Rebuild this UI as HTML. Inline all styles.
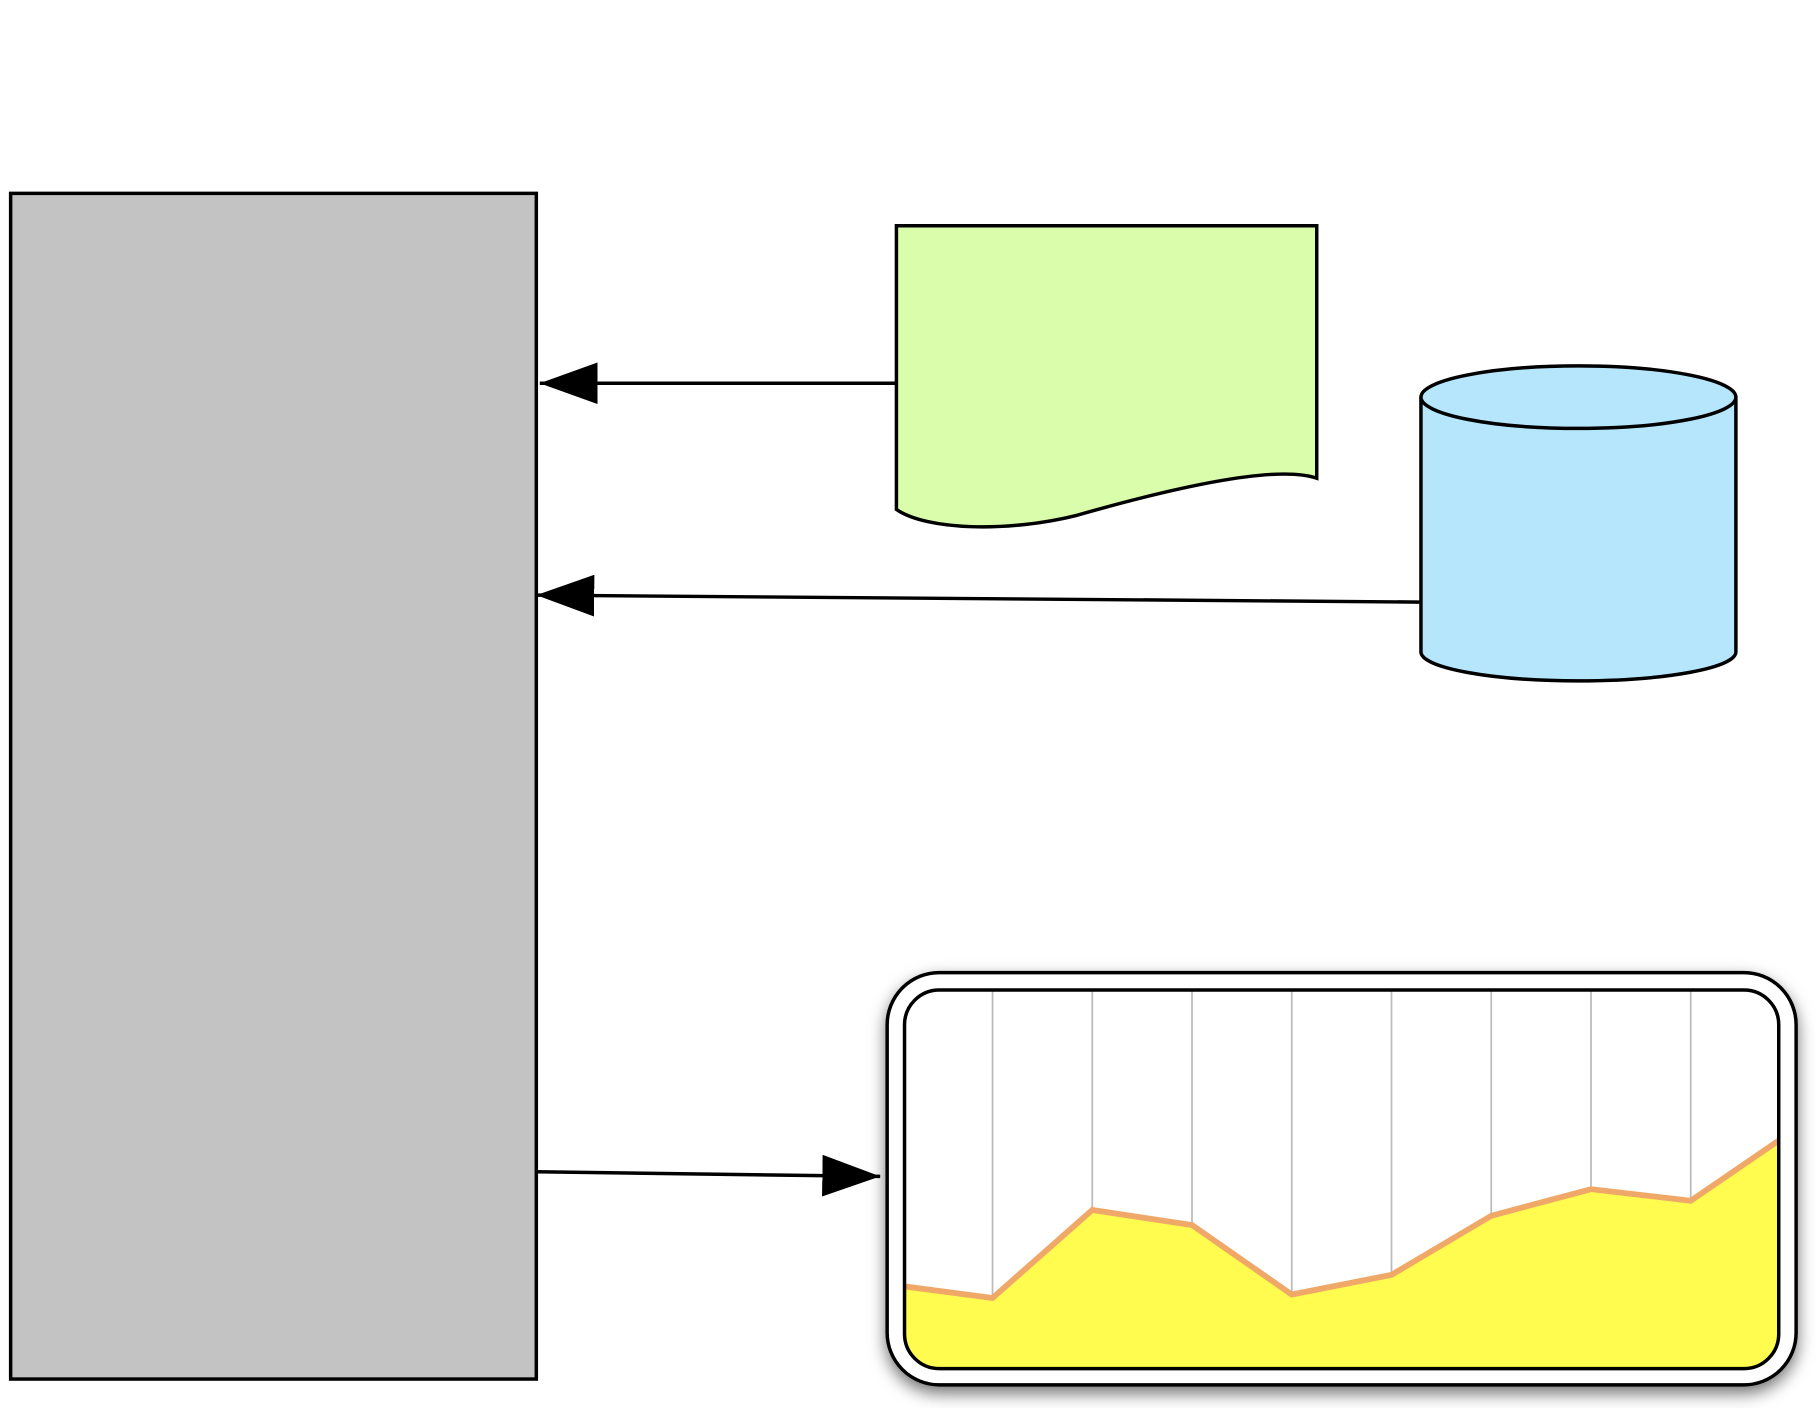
<!DOCTYPE html>
<html><head><meta charset="utf-8"><style>
html,body{margin:0;padding:0;background:#fff;width:1816px;height:1408px;overflow:hidden}
svg{display:block}
</style></head><body>
<svg id="root" width="1816" height="1408" viewBox="0 0 1568 1216">
<defs>
<marker id="ah" viewBox="0 0 50 36" refX="50" refY="18" markerWidth="50" markerHeight="36" markerUnits="userSpaceOnUse" orient="auto">
<path d="M0,0 L50,18 L0,36 Z" fill="#000"/>
</marker>
<filter id="sh" x="-10%" y="-10%" width="120%" height="130%">
<feDropShadow dx="0" dy="6" stdDeviation="7" flood-color="#000" flood-opacity="0.55"/>
</filter>
<clipPath id="inner"><rect x="781" y="855" width="755" height="327" rx="30"/></clipPath>
</defs>
<rect x="9" y="167" width="454" height="1024" fill="#c3c3c3" stroke="#000" stroke-width="3"/>
<path d="M774,195 H1137 V413 C1100,400 1000,425 930,445 C870,460 800,458 774,440 Z" fill="#d9fdaa" stroke="#000" stroke-width="3"/>
<g>
<path d="M1227,343 V563 A136,25 0 0 0 1499,563 V343" fill="#b5e6fb" stroke="#000" stroke-width="3"/>
<ellipse cx="1363" cy="343" rx="136" ry="27" fill="#b5e6fb" stroke="#000" stroke-width="3"/>
</g>
<line x1="774" y1="331" x2="466" y2="331" stroke="#000" stroke-width="3" marker-end="url(#ah)"/>
<line x1="1227" y1="520" x2="463" y2="514" stroke="#000" stroke-width="3" marker-end="url(#ah)"/>
<line x1="463" y1="1012" x2="760" y2="1016" stroke="#000" stroke-width="3" marker-end="url(#ah)"/>
<g>
<rect x="766" y="840" width="785" height="356" rx="45" fill="#fff" stroke="#000" stroke-width="3" filter="url(#sh)"/>
<rect x="781" y="855" width="755" height="327" rx="30" fill="#fff"/>
<g id="plot" clip-path="url(#inner)"></g>
<rect x="781" y="855" width="755" height="327" rx="30" fill="none" stroke="#000" stroke-width="3"/>
</g>
</svg>
<script>
const categories = ["c0","c1","c2","c3","c4","c5","c6","c7","c8","c9"];
const values = [71, 61, 137, 124, 64, 81, 132, 155, 145, 197];

const NS = "http://www.w3.org/2000/svg";
function xScale(i){
  const n = categories.length;
  if (i === 0) return 781;
  if (i === n - 1) return 1536;
  return 857 + (i - 1) * (1460 - 857) / (n - 3);
}
function yScale(v){ return 1182 - v; }
const plot = document.getElementById("plot");
for (let i = 1; i < categories.length - 1; i++) {
  const g = document.createElementNS(NS, "line");
  g.setAttribute("x1", xScale(i)); g.setAttribute("x2", xScale(i));
  g.setAttribute("y1", 855); g.setAttribute("y2", 1182);
  g.setAttribute("stroke", "#bbb"); g.setAttribute("stroke-width", "1.5");
  
  
  plot.appendChild(g);
}
let pts = values.map((v, i) => xScale(i) + "," + yScale(v));
const area = document.createElementNS(NS, "polygon");
area.setAttribute("points", pts.join(" ") + " " + xScale(values.length - 1) + ",1190 " + xScale(0) + ",1190");
area.setAttribute("fill", "#fffb4f");


plot.appendChild(area);
const line = document.createElementNS(NS, "polyline");
line.setAttribute("points", pts.join(" "));
line.setAttribute("fill", "none");
line.setAttribute("stroke", "#f0a868");
line.setAttribute("stroke-width", "5");


plot.appendChild(line);
</script>
</body></html>
